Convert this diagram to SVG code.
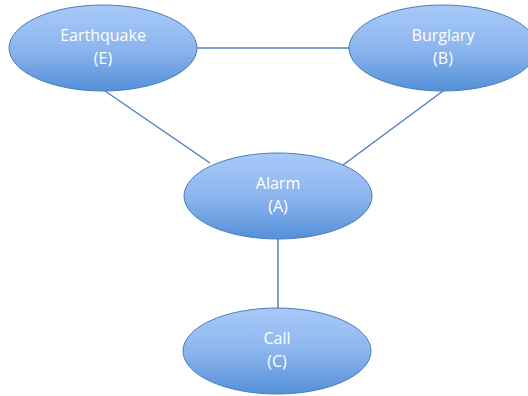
<svg xmlns="http://www.w3.org/2000/svg" width="528" height="396" viewBox="0 0 528 396">
<defs>
<linearGradient id="g" x1="0" y1="0" x2="0" y2="1">
<stop offset="0" stop-color="#a8c9f8"/>
<stop offset="0.5" stop-color="#8db6ee"/>
<stop offset="1" stop-color="#5490d9"/>
</linearGradient>
<style>
.n{fill:url(#g);stroke:#4a7ebb;stroke-width:1}
.t{fill:#ffffff;font-family:"Open Sans","Liberation Sans",sans-serif;font-size:16px;text-anchor:middle}
.e{stroke:#4f81bd;stroke-width:1.5;fill:none}
</style>
</defs>
<rect width="528" height="396" fill="#ffffff"/>
<g id="connectors">
<line class="e" x1="197" y1="48" x2="349" y2="48"/>
<line class="e" x1="105" y1="91" x2="210" y2="163"/>
<line class="e" x1="443" y1="91" x2="343" y2="165"/>
<line class="e" x1="278" y1="239" x2="278" y2="308"/>
</g>
<g id="earthquake">
<ellipse class="n" cx="103" cy="48" rx="94" ry="43"/>
<text class="t" x="103" y="41">Earthquake</text>
<text class="t" x="103" y="64">(E)</text>
</g>
<g id="burglary">
<ellipse class="n" cx="443" cy="48" rx="94" ry="43"/>
<text class="t" x="443" y="41">Burglary</text>
<text class="t" x="443" y="64">(B)</text>
</g>
<g id="alarm">
<ellipse class="n" cx="278" cy="196" rx="94" ry="43"/>
<text class="t" x="278" y="189">Alarm</text>
<text class="t" x="278" y="212">(A)</text>
</g>
<g id="call">
<ellipse class="n" cx="277" cy="351" rx="94" ry="43"/>
<text class="t" x="277" y="344">Call</text>
<text class="t" x="277" y="367">(C)</text>
</g>
</svg>
